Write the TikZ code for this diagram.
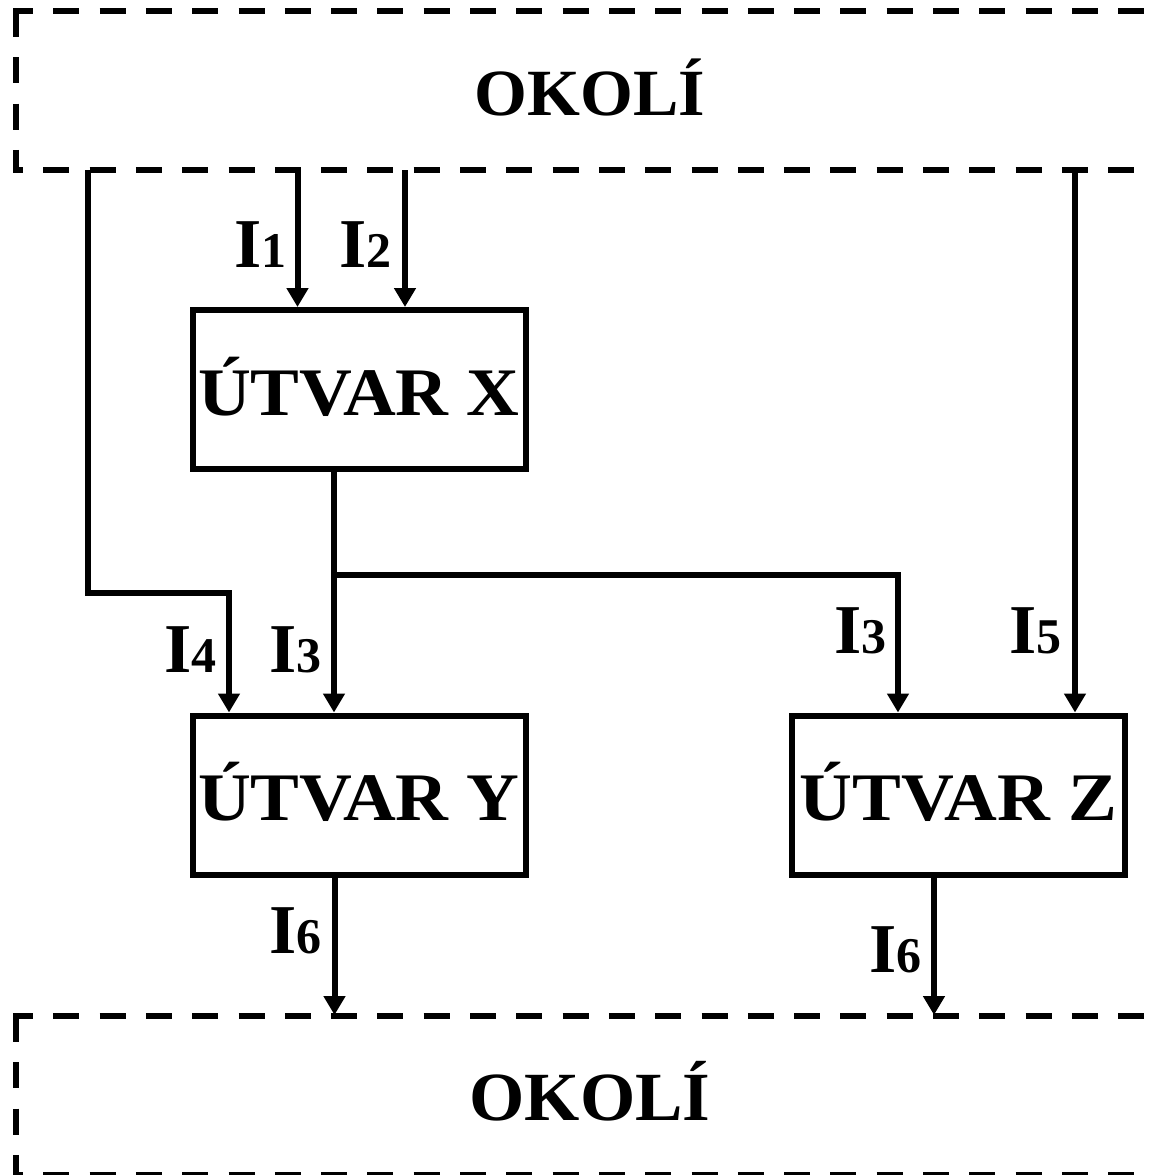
\documentclass[tikz,border=0pt]{standalone}
\usepackage{fontspec}
\setmainfont{Liberation Serif}
\newfontfamily\unitfont[FakeStretch=1.075]{Liberation Serif}
\newfontfamily\envfont[FakeStretch=1.03]{Liberation Serif}
\usetikzlibrary{arrows.meta}
\newcommand\Ilab[1]{{\fontsize{70}{70}\selectfont I}{\fontsize{50}{50}\selectfont #1}}
\begin{document}
\begin{tikzpicture}[x=1pt,y=-1pt,line width=6pt,
  arr/.style={-{Triangle[width=21pt,length=19pt]}},
  dashline/.style={dash pattern=on 26pt off 20.3pt},
  unit/.style={draw,minimum width=333pt,minimum height=159pt,inner sep=0pt,
    text height=51pt,text depth=0pt,font=\unitfont\fontsize{68}{68}\selectfont\bfseries},
  lbl/.style={anchor=base west,inner sep=0pt,font=\bfseries},
  env/.style={anchor=base,inner sep=0pt},
]
\useasboundingbox (0,0) rectangle (1151,1175);
\clip (0,0) rectangle (1151,1175);
% top environment box
\draw[dashline,dash phase=6pt] (13,11) -- (1200,11);
\draw[dashline] (16,11) -- (16,173);
\draw[dashline,dash phase=16pt] (13,170) -- (1200,170);
\node[env,font=\envfont\fontsize{66}{66}\selectfont\bfseries] (okoli1) at (590,115) {OKOLÍ};
% bottom environment box
\begin{scope}[yshift=-1005pt]
\draw[dashline,dash phase=6pt] (13,11) -- (1200,11);
\draw[dashline] (16,11) -- (16,173);
\draw[dashline,dash phase=16pt] (13,170) -- (1200,170);
\end{scope}
\node[env,font=\envfont\fontsize{69}{69}\selectfont\bfseries] (okoli2) at (590,1120) {OKOLÍ};
% units
\node[unit] (X) at (359,389.5) {ÚTVAR X};
\node[unit] (Y) at (359,795) {ÚTVAR Y};
\node[unit] (Z) at (958.5,795) {ÚTVAR Z};
% coordinates
\coordinate (s1) at (297.5,170);
\coordinate (s2) at (405,170);
\coordinate (s4) at (88,170);
\coordinate (c4) at (229,592.5);
\coordinate (s5) at (1075,170);
\coordinate (b) at (334,575);
\coordinate (c3) at (898,575);
\coordinate (e6) at (334.5,1015);
\coordinate (f6) at (934,1015);
% connectors
\draw[arr] (s1) -- (s1 |- X.north);
\draw[arr] (s2) -- (s2 |- X.north);
\draw[arr] (s4) |- (c4) -- (c4 |- Y.north);
\draw[arr] (X.south -| b) -- (b |- Y.north);
\draw[arr] (b) -- (c3) -- (c3 |- Z.north);
\draw[arr] (s5) -- (s5 |- Z.north);
\draw[arr] (Y.south -| e6) -- (e6);
\draw[arr] (Z.south -| f6) -- (f6);
% labels
\node[lbl] (l1) at (231.5,267) {\Ilab{1}};
\node[lbl] (l2) at (336.5,267) {\Ilab{2}};
\node[lbl] (l4) at (161.5,672) {\Ilab{4}};
\node[lbl] (l3a) at (266.5,672) {\Ilab{3}};
\node[lbl] (l3b) at (831.5,653) {\Ilab{3}};
\node[lbl] (l5) at (1006.5,653) {\Ilab{5}};
\node[lbl] (l6a) at (266.5,953) {\Ilab{6}};
\node[lbl] (l6b) at (866.5,972) {\Ilab{6}};
\end{tikzpicture}
\end{document}
